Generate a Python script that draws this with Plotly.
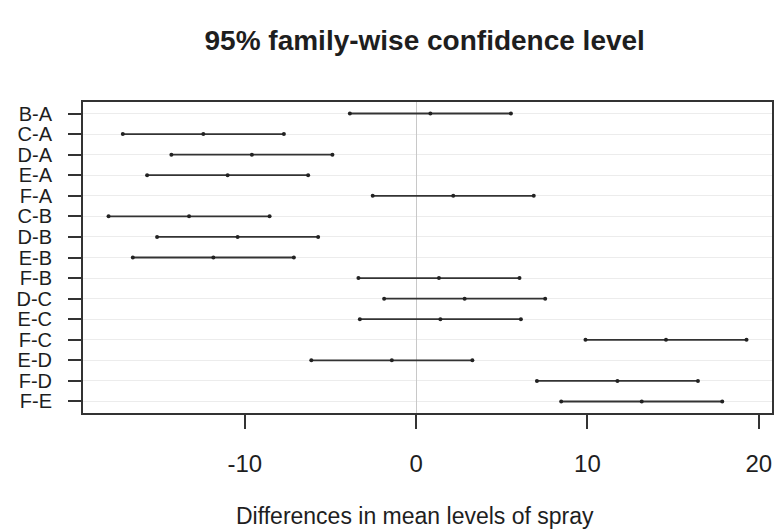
import plotly.graph_objects as go

# TukeyHSD comparisons (InsectSprays)
comparisons = ["B-A", "C-A", "D-A", "E-A", "F-A", "C-B", "D-B", "E-B",
               "F-B", "D-C", "E-C", "F-C", "E-D", "F-D", "F-E"]
diff = [0.833, -12.417, -9.583, -11.000, 2.167, -13.250, -10.417, -11.833,
        1.333, 2.833, 1.417, 14.583, -1.417, 11.750, 13.167]
lwr = [-3.866, -17.116, -14.283, -15.699, -2.533, -17.949, -15.116, -16.533,
       -3.366, -1.866, -3.283, 9.884, -6.116, 7.051, 8.467]
upr = [5.533, -7.717, -4.884, -6.301, 6.866, -8.551, -5.717, -7.134,
       6.033, 7.533, 6.116, 19.283, 3.283, 16.449, 17.866]
x_ticks = [-10, 0, 10, 20]
x_tick_labels = ["-10", "0", "10", "20"]

FONT = "Liberation Sans, Arial, sans-serif"
INK = "#333333"
TEXT = "#1e1e1e"

fig = go.Figure()

# interval segments
seg_x, seg_y = [], []
for c, lo, hi in zip(comparisons, lwr, upr):
    seg_x += [lo, hi, None]
    seg_y += [c, c, None]
fig.add_trace(go.Scatter(x=seg_x, y=seg_y, mode="lines",
                         line=dict(color=INK, width=1.8), hoverinfo="skip"))

# end and centre marks
fig.add_trace(go.Scatter(
    x=lwr + diff + upr, y=comparisons * 3, mode="markers",
    marker=dict(symbol="circle", size=4, color="#222222"),
))

fig.update_layout(
    width=775, height=531,
    paper_bgcolor="white", plot_bgcolor="white",
    showlegend=False,
    margin=dict(l=83, r=3, t=102, b=118),
    font=dict(family=FONT, color=TEXT, size=20),
    title=dict(text="<b>95% family-wise confidence level</b>",
               x=0.548, xanchor="center", y=0.925, yanchor="middle",
               font=dict(size=28, color=TEXT)),
)

fig.add_annotation(text="Differences in mean levels of spray",
                   xref="paper", yref="paper", x=0.482, y=-0.33,
                   xanchor="center", yanchor="middle", showarrow=False,
                   font=dict(size=23, color=TEXT))

fig.update_xaxes(
    range=[-19.44, 20.77],
    tickvals=x_ticks, ticktext=x_tick_labels,
    ticks="outside", ticklen=14, tickwidth=2, tickcolor=INK,
    ticklabelstandoff=14,
    showgrid=False,
    zeroline=True, zerolinecolor="#c8c8c8", zerolinewidth=1,
    showline=True, linecolor=INK, linewidth=2, mirror=True,
    automargin=False,
    tickfont=dict(size=24),
)
fig.update_yaxes(
    type="category", categoryorder="array", categoryarray=comparisons,
    tickvals=comparisons,
    range=[14.56, -0.56],
    ticks="outside", ticklen=13, tickwidth=2, tickcolor=INK,
    ticklabelstandoff=12,
    showgrid=True, gridcolor="#ececec", gridwidth=1,
    showline=True, linecolor=INK, linewidth=2, mirror=True,
    automargin=False,
    tickfont=dict(size=20),
)

fig.write_html("out.html", config={"displayModeBar": False},
               post_script="document.body.style.margin='0';")
